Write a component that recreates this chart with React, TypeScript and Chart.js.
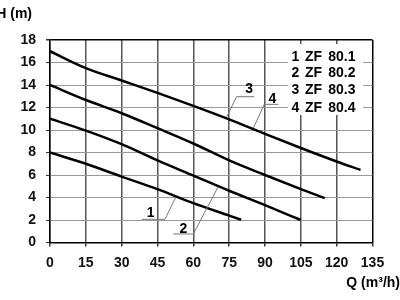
import React, { useEffect, useRef } from 'react';
import { Chart, registerables } from 'chart.js';

Chart.register(...registerables);

// Flow (m³/h) and head (m) readings for each pump curve
const q1 = [0, 15, 30, 45, 60, 75, 80];
const h1 = [8, 7.0, 5.86, 4.74, 3.5, 2.39, 2.02];
const q2 = [0, 15, 30, 45, 60, 75, 90, 105];
const h2 = [11, 9.95, 8.74, 7.3, 5.95, 4.6, 3.32, 2.0];
const q3 = [0, 15, 30, 45, 60, 75, 90, 105, 115];
const h3 = [14, 12.67, 11.49, 10.16, 8.8, 7.3, 6.0, 4.75, 3.95];
const q4 = [0, 15, 30, 45, 60, 75, 90, 105, 120, 130];
const h4 = [17, 15.5, 14.4, 13.3, 12.15, 10.95, 9.65, 8.4, 7.2, 6.45];

const curveNumbers = ['1', '2', '3', '4'];
const modelNames = ['ZF 80.1', 'ZF 80.2', 'ZF 80.3', 'ZF 80.4'];

// Leader annotations in data units (Q, H)
const leaderLabelQ = [42.1, 55.8, 83.4, 93.1];
const leaderLabelH = [2.65, 1.2, 13.64, 12.76];
const leaderBarEndQ = [38.4, 51.6, 85.4, 95.6];
const leaderElbowQ = [48.1, 60.0, 78.1, 89.7];
const leaderElbowH = [2.06, 0.76, 12.96, 12.28];
const leaderTipQ = [52.6, 70.4, 74.0, 85.1];
const leaderTipH = [4.0, 4.96, 11.18, 10.15];

const FONT = '"Liberation Sans", Arial, Helvetica, sans-serif';

const toXY = (qs: number[], hs: number[]) => qs.map((q, i) => ({ x: q, y: hs[i] }));

const annotations = {
  id: 'pumpAnnotations',
  afterDraw(chart: any) {
    const { ctx, scales } = chart;
    const xs = scales.x;
    const ys = scales.y;
    ctx.save();

    // leader lines
    ctx.strokeStyle = '#777';
    ctx.lineWidth = 1;
    for (let i = 0; i < curveNumbers.length; i++) {
      ctx.beginPath();
      ctx.moveTo(xs.getPixelForValue(leaderBarEndQ[i]), ys.getPixelForValue(leaderElbowH[i]));
      ctx.lineTo(xs.getPixelForValue(leaderElbowQ[i]), ys.getPixelForValue(leaderElbowH[i]));
      ctx.lineTo(xs.getPixelForValue(leaderTipQ[i]), ys.getPixelForValue(leaderTipH[i]));
      ctx.stroke();
    }
    ctx.fillStyle = '#000';
    ctx.font = `bold 14px ${FONT}`;
    ctx.textAlign = 'center';
    ctx.textBaseline = 'middle';
    for (let i = 0; i < curveNumbers.length; i++) {
      ctx.fillText(curveNumbers[i], xs.getPixelForValue(leaderLabelQ[i]), ys.getPixelForValue(leaderLabelH[i]));
    }

    // legend box
    ctx.fillStyle = '#fff';
    ctx.fillRect(288, 44, 75, 71);
    ctx.fillStyle = '#000';
    const rowY = [56.7, 73.5, 90.5, 108];
    for (let i = 0; i < modelNames.length; i++) {
      const parts = modelNames[i].split(' ');
      ctx.textAlign = 'left';
      ctx.fillText(curveNumbers[i], 291.5, rowY[i]);
      ctx.fillText(parts[0], 305, rowY[i]);
      ctx.textAlign = 'right';
      ctx.fillText(parts[1], 355.5, rowY[i]);
    }

    // axis titles
    ctx.textAlign = 'right';
    ctx.fillText('H (m)', 32, 14);
    ctx.fillText('Q (m³/h)', 400, 283);
    ctx.restore();
  },
};

export default function App() {
  const ref = useRef<HTMLCanvasElement | null>(null);

  useEffect(() => {
    if (!ref.current) return;
    const line = (qs: number[], hs: number[]) => ({
      data: toXY(qs, hs),
      borderColor: '#000',
      borderWidth: 2.5,
      pointRadius: 0,
      fill: false,
      tension: 0.4,
      cubicInterpolationMode: 'monotone' as const,
    });
    const chart = new Chart(ref.current, {
      type: 'line',
      data: {
        datasets: [line(q1, h1), line(q2, h2), line(q3, h3), line(q4, h4)],
      },
      options: {
        responsive: false,
        animation: false,
        events: [],
        layout: { padding: { top: 40, right: 27.5, left: 0, bottom: 0 } },
        plugins: { legend: { display: false }, tooltip: { enabled: false }, title: { display: false } },
        scales: {
          x: {
            type: 'linear',
            min: 0,
            max: 135,
            ticks: {
              stepSize: 15,
              autoSkip: false,
              maxRotation: 0,
              padding: 8,
              color: '#111',
              font: { family: FONT, size: 14, weight: 'bold' },
            },
            grid: {
              color: (c: any) => (c.tick && c.tick.value === 135 ? '#000' : '#555'),
              lineWidth: 1.5,
              tickLength: 4,
              tickColor: '#333',
            },
            border: { color: '#000', width: 1.5 },
            afterFit: (s: any) => {
              s.height = 57.5;
              s.paddingLeft = 0;
              s.paddingRight = 0;
            },
          },
          y: {
            type: 'linear',
            min: 0,
            max: 18,
            ticks: {
              stepSize: 2,
              padding: 10,
              color: '#111',
              font: { family: FONT, size: 14, weight: 'bold' },
            },
            grid: {
              color: (c: any) => (c.tick && c.tick.value === 18 ? '#000' : '#999'),
              lineWidth: (c: any) => (c.tick && c.tick.value === 18 ? 1.5 : 1),
              tickLength: 4,
              tickColor: '#333',
            },
            border: { color: '#000', width: 1.5 },
            afterFit: (s: any) => {
              s.width = 50;
              s.paddingTop = 0;
              s.paddingBottom = 0;
            },
          },
        },
      },
      plugins: [annotations],
    } as any);
    return () => chart.destroy();
  }, []);

  return (
    <div style={{ position: 'fixed', left: 0, top: 0, width: 400, height: 300, background: '#fff' }}>
      <canvas ref={ref} width={400} height={300} style={{ display: 'block', width: 400, height: 300 }} />
    </div>
  );
}
